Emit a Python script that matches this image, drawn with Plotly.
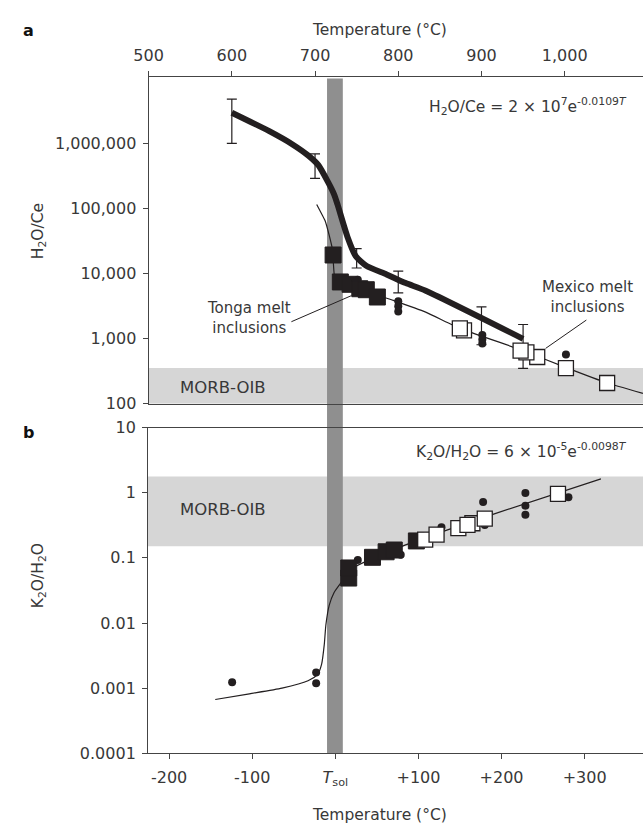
import plotly.graph_objects as go

W, H = 643, 834

# ---------------- Panel a data (Temperature °C vs H2O/Ce) ----------------
thick_T = [600, 645, 672.5, 692, 704, 715.5, 723, 727, 739, 749, 762, 786, 809, 833, 950]
thick_v = [3.02e6, 1.57e6, 9.9e5, 6.6e5, 4.7e5, 2.6e5, 1.66e5, 1.17e5, 3.7e4, 1.86e4,
           1.32e4, 9.8e3, 7.2e3, 5.5e3, 1.0e3]

eb_T = [600, 700, 750, 800, 900, 950]
eb_lo = [1.02e6, 2.95e5, 1.23e4, 5.1e3, 810, 350]
eb_hi = [4.9e6, 7.0e5, 2.45e4, 1.1e4, 3.1e3, 1.66e3]

thin_T = [702, 712, 717.5, 721, 723, 727, 794, 833, 874, 947, 1001, 1051, 1094]
thin_v = [117000, 66000, 37000, 23400, 10000, 7600, 3900, 2570, 1450, 680, 363, 209, 145]

tonga_T = [721.7, 730.4, 742.1, 753.8, 761.6, 774.9]
tonga_v = [19500, 7500, 6900, 5900, 5700, 4400]

mexico_T = [879, 874, 967, 954, 947, 1001.5, 1051]
mexico_v = [1350, 1445, 525, 617, 660, 355, 209]

dots_a_T = [751.4, 800, 800, 800, 901, 901, 901, 1001.5]
dots_a_v = [8100, 3800, 3160, 2630, 1150, 980, 850, 575]

# ---------------- Panel b data (T - Tsol vs K2O/H2O) ----------------
thin_t = [-144.5, -103.4, -64.2, -32.9, -21.2, -16.5, -13.3, -11.4, -7.4, -1.5, 8.2, 18,
          84.6, 190.4, 319.6]
thin_k = [0.00067, 0.00082, 0.0010, 0.0013, 0.00164, 0.00234, 0.0047, 0.0093, 0.0186,
          0.0295, 0.044, 0.066, 0.158, 0.47, 1.63]

tonga_t = [16.1, 16.1, 44.7, 61.1, 70.9, 97.5]
tonga_k = [0.049, 0.070, 0.102, 0.124, 0.132, 0.182]

mexico_t = [108.1, 121.8, 148, 164.9, 159, 179.8, 267.9]
mexico_k = [0.19, 0.227, 0.286, 0.34, 0.32, 0.40, 0.96]

dots_b_t = [-124.2, -23.1, -23.1, 27, 78.7, 127.7, 177.8, 179.8, 228.7, 228.7, 228.7, 280.5]
dots_b_k = [0.00123, 0.00174, 0.00119, 0.093, 0.112, 0.295, 0.72, 0.32, 0.99, 0.63, 0.46, 0.855]

# bands (data units) and solidus band (relative °C)
morb_a = (100, 355)
morb_b = (0.151, 1.77)
tsol_band = (-10, 9)

# tick labels
ya_vals = [100, 1000, 10000, 100000, 1000000]
ya_text = ["100", "1,000", "10,000", "100,000", "1,000,000"]
yb_vals = [0.0001, 0.001, 0.01, 0.1, 1, 10]
yb_text = ["0.0001", "0.001", "0.01", "0.1", "1", "10"]
xa_vals = [500, 600, 700, 800, 900, 1000]
xa_text = ["500", "600", "700", "800", "900", "1,000"]
xb_vals = [-200, -100, 0, 100, 200, 300]
xb_text = ["-200", "-100", "<i>T</i><sub>sol</sub>", "+100", "+200", "+300"]

INK = "#231f20"
TXT = "#383838"
FONT = "DejaVu Sans"


def px(x):
    return x / W


def py(y):
    return 1 - y / H


fig = go.Figure()

# ---- panel a traces
fig.add_trace(go.Scatter(x=thin_T, y=thin_v, mode="lines", line=dict(color=INK, width=1.2, shape="spline", smoothing=0.3),
                         xaxis="x", yaxis="y", hoverinfo="skip"))
fig.add_trace(go.Scatter(x=thick_T, y=thick_v, mode="lines", line=dict(color=INK, width=6, shape="spline", smoothing=0.6),
                         xaxis="x", yaxis="y", hoverinfo="skip"))
eb_mid = [(lo * hi) ** 0.5 for lo, hi in zip(eb_lo, eb_hi)]
fig.add_trace(go.Scatter(x=eb_T, y=eb_mid, mode="markers", marker=dict(size=1, opacity=0),
                         error_y=dict(type="data", symmetric=False,
                                      array=[h - m for h, m in zip(eb_hi, eb_mid)],
                                      arrayminus=[m - l for m, l in zip(eb_mid, eb_lo)],
                                      color=INK, thickness=1.2, width=5),
                         xaxis="x", yaxis="y"))
fig.add_trace(go.Scatter(x=dots_a_T, y=dots_a_v, mode="markers",
                         marker=dict(symbol="circle", size=8, color=INK), xaxis="x", yaxis="y"))
fig.add_trace(go.Scatter(x=tonga_T, y=tonga_v, mode="markers",
                         marker=dict(symbol="square", size=16, color=INK, line=dict(color=INK, width=1)),
                         xaxis="x", yaxis="y"))
fig.add_trace(go.Scatter(x=mexico_T, y=mexico_v, mode="markers",
                         marker=dict(symbol="square", size=15, color="white", line=dict(color=INK, width=1.3)),
                         xaxis="x", yaxis="y"))

# ---- panel b traces
fig.add_trace(go.Scatter(x=thin_t, y=thin_k, mode="lines", line=dict(color=INK, width=1.2, shape="spline", smoothing=0.6),
                         xaxis="x2", yaxis="y2", hoverinfo="skip"))
fig.add_trace(go.Scatter(x=dots_b_t, y=dots_b_k, mode="markers",
                         marker=dict(symbol="circle", size=8, color=INK), xaxis="x2", yaxis="y2"))
fig.add_trace(go.Scatter(x=tonga_t, y=tonga_k, mode="markers",
                         marker=dict(symbol="square", size=16, color=INK, line=dict(color=INK, width=1)),
                         xaxis="x2", yaxis="y2"))
fig.add_trace(go.Scatter(x=mexico_t, y=mexico_k, mode="markers",
                         marker=dict(symbol="square", size=15, color="white", line=dict(color=INK, width=1.3)),
                         xaxis="x2", yaxis="y2"))

shapes = [
    dict(type="rect", xref="x domain", yref="y", x0=0, x1=1, y0=morb_a[0], y1=morb_a[1],
         fillcolor="#d6d6d6", line=dict(width=0), layer="below"),
    dict(type="rect", xref="x2 domain", yref="y2", x0=0, x1=1, y0=morb_b[0], y1=morb_b[1],
         fillcolor="#d6d6d6", line=dict(width=0), layer="below"),
    dict(type="rect", xref="x2", yref="paper", x0=tsol_band[0], x1=tsol_band[1],
         y0=py(762), y1=py(71), fillcolor="#8f8f8f", line=dict(width=0), layer="below"),
    # leader lines
    dict(type="line", xref="paper", yref="paper", x0=px(283), y0=py(320), x1=px(344.5), y1=py(293.3),
         line=dict(color=INK, width=1)),
    dict(type="line", xref="paper", yref="paper", x0=px(585), y0=py(318.3), x1=px(543.3), y1=py(347.3),
         line=dict(color=INK, width=1)),
]

def ann(text, x, y, size=15, xanchor="center", yanchor="middle", angle=0, bold=False):
    return dict(text=text, x=px(x), y=py(y), xref="paper", yref="paper", showarrow=False,
                xanchor=xanchor, yanchor=yanchor, textangle=angle, borderpad=0,
                font=dict(family=FONT, size=size, color="#111" if bold else TXT,
                          weight="bold" if bold else "normal"))

annotations = [
    ann("a", 14, 21.7, size=16, bold=True),
    ann("b", 14, 433, size=16, bold=True),
    ann("Temperature (°C)", 373, 21.7, size=15.5),
    ann("Temperature (°C)", 373, 825, size=15.5),
    ann("H<sub>2</sub>O/Ce", 24, 227, size=15.5, angle=-90),
    ann("K<sub>2</sub>O/H<sub>2</sub>O", 24, 580, size=15.5, angle=-90),
    ann("H<sub>2</sub>O/Ce = 2 × 10<sup>7</sup>e<sup>-0.0109<i>T</i></sup>", 628, 100, size=15.5, xanchor="right"),
    ann("K<sub>2</sub>O/H<sub>2</sub>O = 6 × 10<sup>-5</sup>e<sup>-0.0098<i>T</i></sup>", 628, 453, size=15.5, xanchor="right"),
    ann("MORB-OIB", 168, 387, size=16.5, xanchor="left"),
    ann("MORB-OIB", 168, 512, size=16.5, xanchor="left"),
    ann("Tonga melt<br>inclusions", 240, 316, size=15),
    ann("Mexico melt<br>inclusions", 586, 295, size=15),
]

axis_common = dict(showline=True, linecolor="#444", linewidth=1, ticks="outside", ticklen=5,
                   tickcolor="#444", tickwidth=1, showgrid=False, zeroline=False,
                   tickfont=dict(family=FONT, size=16, color=TXT))

fig.update_layout(
    width=W, height=H, margin=dict(l=0, r=0, t=0, b=0),
    paper_bgcolor="white", plot_bgcolor="rgba(0,0,0,0)", showlegend=False,
    xaxis=dict(axis_common, domain=[px(136.8), 1], anchor="y", side="top", mirror=True,
               range=[500, 1094.1], tickvals=xa_vals, ticktext=xa_text, ticklabelstandoff=4),
    yaxis=dict(axis_common, domain=[py(404), py(70)], anchor="x", type="log",
               range=[2, 7.023], tickvals=ya_vals, ticktext=ya_text, ticklabelstandoff=3),
    xaxis2=dict(axis_common, domain=[px(136.2), 1], anchor="y2", mirror=True,
                range=[-225.4, 370.2], tickvals=xb_vals, ticktext=xb_text, ticklabelstandoff=4),
    yaxis2=dict(axis_common, domain=[py(761.7), py(428.3)], anchor="x2", type="log",
                range=[-4, 1], tickvals=yb_vals, ticktext=yb_text, ticklabelstandoff=3),
    shapes=shapes, annotations=annotations,
)

fig.write_html("out.html", config={"displayModeBar": False, "staticPlot": True},
               post_script="document.body.style.margin='0px';document.body.style.overflow='hidden';")
